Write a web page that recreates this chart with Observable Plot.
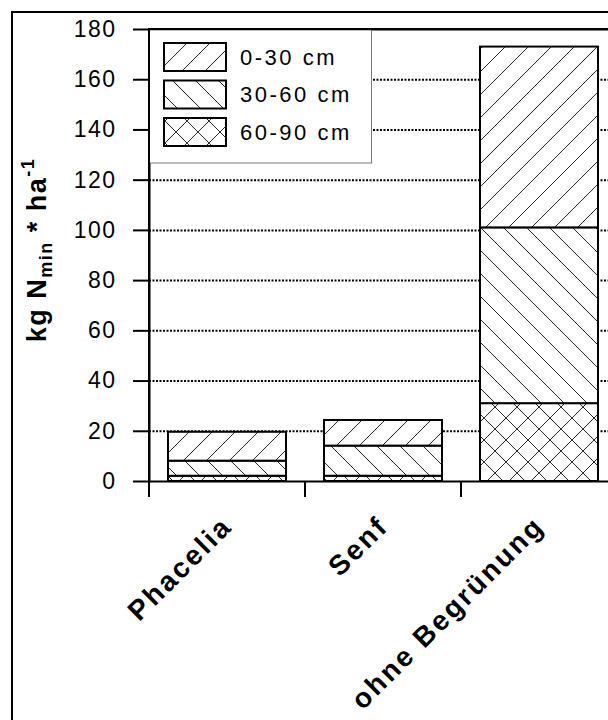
<!DOCTYPE html>
<html><head><meta charset="utf-8">
<script src="https://cdn.jsdelivr.net/npm/d3@7"></script>
<script src="https://cdn.jsdelivr.net/npm/@observablehq/plot@0.6"></script>
<style>body{margin:0;background:#fff;} svg{display:block}</style>
</head><body><div id="chart"></div>
<script>
const categories = ["Phacelia", "Senf", "ohne Begrünung"];
const layers = ["0-30 cm", "30-60 cm", "60-90 cm"];
const depth0_30 = [11.5, 10.2, 72];
const depth30_60 = [6.0, 12.0, 70];
const depth60_90 = [2.1, 2.1, 31];
const yTicks = [0, 20, 40, 60, 80, 100, 120, 140, 160, 180];
const gridTicks = [20, 40, 60, 80, 100, 120, 140, 160];
const patternIds = ["p0", "p1", "p2"];

const data = [];
categories.forEach((c, i) => {
  data.push({cat: c, layer: layers[2], value: depth60_90[i]});
  data.push({cat: c, layer: layers[1], value: depth30_60[i]});
  data.push({cat: c, layer: layers[0], value: depth0_30[i]});
});

const FONT = "'Liberation Sans', Arial, Helvetica, sans-serif";

const chart = Plot.plot({
  width: 608, height: 720,
  marginLeft: 149, marginTop: 29, marginBottom: 239, marginRight: 0,
  style: {fontFamily: FONT, background: "#fff", color: "#000", overflow: "hidden"},
  x: {domain: categories, range: [149, 617], paddingInner: 0.245, paddingOuter: 0.1225, label: null},
  y: {domain: [0, 180], label: null},
  color: {type: "ordinal", domain: layers, range: patternIds.map(id => `url(#${id})`)},
  marks: [
    Plot.gridY(gridTicks, {stroke: "#000", strokeOpacity: 1, strokeWidth: 2, strokeDasharray: "2,1.5"}),
    Plot.barY(data, {x: "cat", y: "value", fill: "layer", stroke: "#000", strokeWidth: 2}),
    Plot.frame({anchor: "left", strokeWidth: 2}),
    Plot.frame({anchor: "bottom", strokeWidth: 2}),
    Plot.frame({anchor: "top", strokeWidth: 2}),
    Plot.axisY({ticks: yTicks, tickSize: 16, tickPadding: 17, fontSize: 23, strokeWidth: 2}),
    Plot.axisX({tickSize: 0, tickPadding: 40, tickRotate: -45, fontSize: 28, fontWeight: "bold"})
  ]
});

const svg = d3.select(chart);
// patterns
const defs = svg.insert("defs", ":first-child");
function makePattern(id, size, paths) {
  const p = defs.append("pattern").attr("id", id).attr("patternUnits", "userSpaceOnUse")
    .attr("width", size).attr("height", size);
  p.append("rect").attr("width", size).attr("height", size).attr("fill", "#fff");
  p.append("path").attr("d", paths).attr("stroke", "#2a2a2a").attr("stroke-width", 1).attr("fill", "none");
}
const s = 23;
makePattern("p0", s, `M0,${s}L${s},0M-4,4L4,-4M${s-4},${s+4}L${s+4},${s-4}`);
makePattern("p1", s, `M0,0L${s},${s}M-4,${s-4}L4,${s+4}M${s-4},-4L${s+4},4`);
const c = 22;
makePattern("p2", c, `M0,${c}L${c},0M-4,4L4,-4M${c-4},${c+4}L${c+4},${c-4}M0,0L${c},${c}M-4,${c-4}L4,${c+4}M${c-4},-4L${c+4},4`);

// letter spacing
svg.selectAll('[aria-label="y-axis tick label"] text').attr("letter-spacing", "1.5px");
svg.selectAll('[aria-label="x-axis tick label"] text').attr("letter-spacing", "2.5px");

// category boundary ticks
const xs = chart.scale("x");
const ys = chart.scale("y");
const y0 = ys.apply(0);
const bounds = categories.map(cat => xs.apply(cat) + xs.bandwidth / 2 - xs.step / 2);
bounds.push(xs.apply(categories[categories.length - 1]) + xs.bandwidth / 2 + xs.step / 2);
svg.append("g").selectAll("line").data(bounds).join("line")
  .attr("x1", d => d).attr("x2", d => d).attr("y1", y0).attr("y2", y0 + 16)
  .attr("stroke", "#000").attr("stroke-width", 2);

// outer frame
svg.append("path").attr("d", "M12,730V12H620").attr("fill", "none").attr("stroke", "#000").attr("stroke-width", 2);

// legend
const lg = svg.append("g").attr("font-family", FONT).attr("text-anchor", "start");
lg.append("rect").attr("x", 149.5).attr("y", 30).attr("width", 222).attr("height", 133)
  .attr("fill", "#fff").attr("stroke", "#777").attr("stroke-width", 1);
layers.forEach((l, i) => {
  const yy = 43 + i * 37.5;
  lg.append("rect").attr("x", 164).attr("y", yy).attr("width", 62).attr("height", 28)
    .attr("fill", `url(#${patternIds[i]})`).attr("stroke", "#000").attr("stroke-width", 2);
  lg.append("text").attr("x", 240).attr("y", yy + 14).attr("dy", "0.36em")
    .attr("font-size", 22).attr("letter-spacing", "2.5px").attr("fill", "#000").text(l);
});
// redraw left axis line over legend
svg.append("line").attr("x1", 149).attr("x2", 149).attr("y1", 29).attr("y2", 481)
  .attr("stroke", "#000").attr("stroke-width", 2);
svg.append("line").attr("x1", 148).attr("x2", 620).attr("y1", 29).attr("y2", 29)
  .attr("stroke", "#000").attr("stroke-width", 2);

// y label
const yl = svg.append("text").attr("transform", "translate(46,250) rotate(-90)")
  .attr("text-anchor", "middle").attr("font-family", FONT).attr("font-weight", "bold")
  .attr("font-size", 27).attr("letter-spacing", "1.5px").attr("fill", "#000");
yl.append("tspan").text("kg N");
yl.append("tspan").attr("font-size", 18).attr("dy", "6").text("min");
yl.append("tspan").attr("dy", "-6").text(" * ha");
yl.append("tspan").attr("font-size", 18).attr("dy", "-12").text("-1");

document.getElementById("chart").appendChild(chart);
</script>
</body></html>
